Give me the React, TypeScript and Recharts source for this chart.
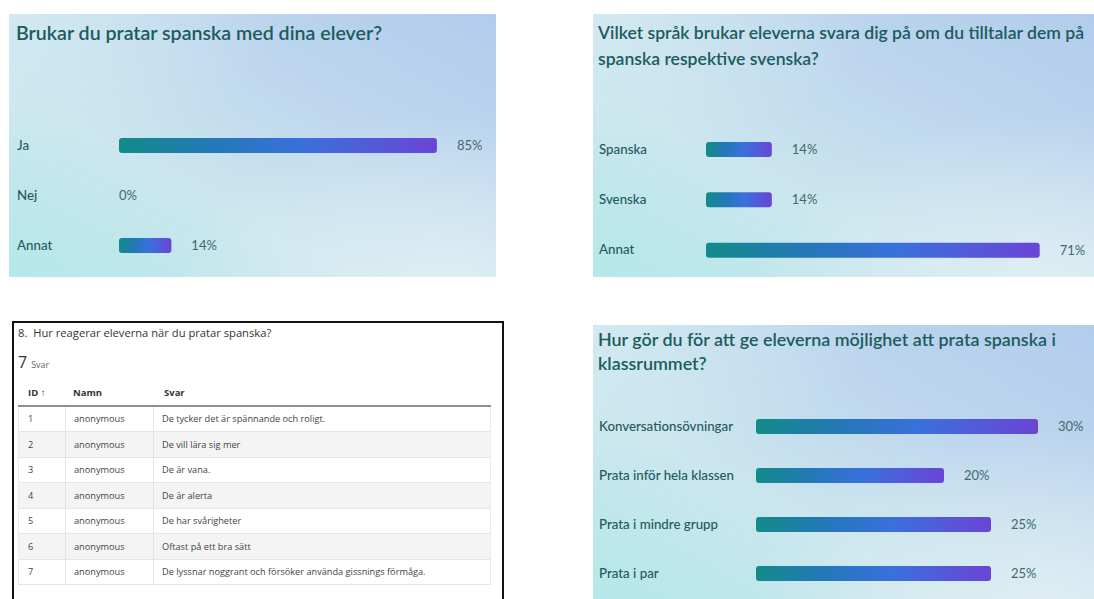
import React from "react";
import { BarChart, Bar, XAxis, YAxis, LabelList, Rectangle } from "recharts";

// question 1
const q1Title = ["Brukar du pratar spanska med dina elever?"];
const q1Categories = ["Ja", "Nej", "Annat"];
const q1Values = [85, 0, 14];

// question 2
const q2Title = [
  "Vilket språk brukar eleverna svara dig på om du tilltalar dem på",
  "spanska respektive svenska?",
];
const q2Categories = ["Spanska", "Svenska", "Annat"];
const q2Values = [14, 14, 71];

// question 4
const q4Title = [
  "Hur gör du för att ge eleverna möjlighet att prata spanska i",
  "klassrummet?",
];
const q4Categories = [
  "Konversationsövningar",
  "Prata inför hela klassen",
  "Prata i mindre grupp",
  "Prata i par",
];
const q4Values = [30, 20, 25, 25];

// free text answers (question 8)
const tableTitle = "8.  Hur reagerar eleverna när du pratar spanska?";
const tableCount = 7;
const tableHeaders = ["ID ↑", "Namn", "Svar"];
const tableIds = [1, 2, 3, 4, 5, 6, 7];
const tableNames = [
  "anonymous",
  "anonymous",
  "anonymous",
  "anonymous",
  "anonymous",
  "anonymous",
  "anonymous",
];
const tableAnswers = [
  "De tycker det är spännande och roligt.",
  "De vill lära sig mer",
  "De är vana.",
  "De är alerta",
  "De har svårigheter",
  "Oftast på ett bra sätt",
  "De lyssnar noggrant och försöker använda gissnings förmåga.",
];

const FONT = "Lato, 'Open Sans', sans-serif";
const TABLE_FONT = "'Open Sans', sans-serif";
const TITLE_COLOR = "#1b5c5d";
const LABEL_COLOR = "#245a5b";
const VALUE_COLOR = "#40696c";

const panelBg =
  "radial-gradient(ellipse at 90% 105%, rgba(226,240,244,0.9) 0%, rgba(226,240,244,0) 45%), " +
  "radial-gradient(ellipse at 0% 0%, rgba(214,236,242,0.8) 0%, rgba(214,236,242,0) 40%), " +
  "linear-gradient(to top right, #b4e8e9 0%, #cbe6ee 35%, #bed7ee 65%, #b2ccec 100%)";

interface PanelProps {
  left: number;
  top: number;
  width: number;
  height: number;
  title: string[];
  titleSize: number;
  titleTop: number;
  lineHeight: number;
  categories: string[];
  values: number[];
  margin: { top: number; right: number; bottom: number; left: number };
  axisWidth: number;
  domainMax: number;
  labelX: number;
}

function SurveyPanel(p: PanelProps) {
  const data = p.categories.map((name, i) => ({ name, value: p.values[i] }));
  return (
    <div
      style={{
        position: "absolute",
        left: p.left,
        top: p.top,
        width: p.width,
        height: p.height,
        background: panelBg,
        overflow: "hidden",
      }}
    >
      <div
        style={{
          position: "absolute",
          left: p.labelX - 1,
          top: p.titleTop,
          fontFamily: FONT,
          fontWeight: 600,
          fontSize: p.titleSize,
          lineHeight: `${p.lineHeight}px`,
          color: TITLE_COLOR,
          whiteSpace: "nowrap",
        }}
      >
        {p.title.map((t) => (
          <div key={t}>{t}</div>
        ))}
      </div>
      <div style={{ position: "absolute", left: 0, top: 0 }}>
        <BarChart
          width={p.width}
          height={p.height}
          data={data}
          layout="vertical"
          margin={p.margin}
        >
          <XAxis type="number" hide domain={[0, p.domainMax]} />
          <YAxis
            type="category"
            dataKey="name"
            width={p.axisWidth}
            axisLine={false}
            tickLine={false}
            interval={0}
            tick={(t: any) => (
              <text
                x={p.labelX}
                y={t.y}
                dy="0.35em"
                textAnchor="start"
                fontFamily={FONT}
                fontSize={13.3}
                fontWeight={500}
                fill={LABEL_COLOR}
              >
                {t.payload.value}
              </text>
            )}
          />
          <Bar
            dataKey="value"
            fill="url(#surveyGrad)"
            barSize={15}
            radius={3}
            minPointSize={1}
            isAnimationActive={false}
            shape={(s: any) =>
              s.payload && s.payload.value > 0 ? <Rectangle {...s} /> : <g />
            }
          >
            <LabelList
              dataKey="value"
              content={(l: any) => {
                const x = Number(l.x) + (l.value > 0 ? Number(l.width) + 20 : 0);
                return (
                  <text
                    x={x}
                    y={Number(l.y) + Number(l.height) / 2}
                    dy="0.35em"
                    textAnchor="start"
                    fontFamily={FONT}
                    fontSize={13}
                    fill={VALUE_COLOR}
                  >
                    {l.value}%
                  </text>
                );
              }}
            />
          </Bar>
        </BarChart>
      </div>
    </div>
  );
}

function AnswerTable() {
  const cellFont = { fontFamily: TABLE_FONT, fontSize: 9.2, color: "#444" };
  const col = (w: number, pad: number) => ({
    width: w,
    height: "100%",
    boxSizing: "border-box" as const,
    paddingLeft: pad,
    borderRight: "1px solid #e3e3e3",
    display: "flex",
    alignItems: "center",
  });
  return (
    <div
      style={{
        position: "absolute",
        left: 12,
        top: 321,
        width: 492,
        height: 290,
        border: "2px solid #111",
        borderBottom: "none",
        boxSizing: "border-box",
        background: "#fff",
      }}
    >
      <div
        style={{
          position: "absolute",
          left: 4,
          top: 2,
          fontFamily: TABLE_FONT,
          fontSize: 11.2,
          lineHeight: "16px",
          color: "#333",
          whiteSpace: "pre",
        }}
      >
        {tableTitle}
      </div>
      <div
        style={{
          position: "absolute",
          left: 4,
          top: 28,
          fontFamily: TABLE_FONT,
          color: "#333",
          whiteSpace: "nowrap",
          display: "flex",
          alignItems: "baseline",
        }}
      >
        <span style={{ fontSize: 16 }}>{tableCount}</span>
        <span style={{ fontSize: 9, color: "#666", marginLeft: 4 }}>Svar</span>
      </div>
      {tableHeaders.map((h, i) => (
        <div
          key={h}
          style={{
            position: "absolute",
            left: [14, 59, 150][i],
            top: 63,
            fontFamily: TABLE_FONT,
            fontSize: 9.5,
            fontWeight: 700,
            color: "#333",
            lineHeight: "14px",
            whiteSpace: "nowrap",
          }}
        >
          {h}
        </div>
      ))}
      <div
        style={{
          position: "absolute",
          left: 4,
          top: 82,
          width: 473,
          height: 1.5,
          background: "#8f8f8f",
        }}
      />
      {tableIds.map((id, i) => (
        <div
          key={id}
          style={{
            position: "absolute",
            left: 4,
            top: 83.5 + i * 25.5,
            width: 473,
            height: 25.5,
            boxSizing: "border-box",
            display: "flex",
            alignItems: "center",
            background: i % 2 === 1 ? "#f4f4f4" : "#fff",
            borderBottom: "1px solid #e6e6e6",
            borderLeft: "1px solid #ececec",
            borderRight: "1px solid #ececec",
            whiteSpace: "nowrap",
            ...cellFont,
          }}
        >
          <div style={col(47, 9)}>{id}</div>
          <div style={col(88, 8)}>{tableNames[i]}</div>
          <div style={{ paddingLeft: 8 }}>{tableAnswers[i]}</div>
        </div>
      ))}
    </div>
  );
}

export default function App() {
  return (
    <div
      style={{
        position: "absolute",
        left: 0,
        top: 0,
        width: 1094,
        height: 599,
        background: "#fff",
        overflow: "hidden",
      }}
    >
      <svg width={0} height={0} style={{ position: "absolute" }}>
        <defs>
          <linearGradient id="surveyGrad" x1="0" y1="0" x2="1" y2="0">
            <stop offset="0%" stopColor="#128b89" />
            <stop offset="30%" stopColor="#2378b8" />
            <stop offset="58%" stopColor="#3a70dc" />
            <stop offset="100%" stopColor="#6b44d6" />
          </linearGradient>
        </defs>
      </svg>
      <SurveyPanel
        left={9}
        top={14}
        width={487}
        height={263}
        title={q1Title}
        titleSize={19.6}
        titleTop={6}
        lineHeight={26}
        categories={q1Categories}
        values={q1Values}
        margin={{ top: 106, right: 3, bottom: 7, left: 0 }}
        axisWidth={110}
        domainMax={100}
        labelX={8}
      />
      <SurveyPanel
        left={593}
        top={14}
        width={501}
        height={263}
        title={q2Title}
        titleSize={17.6}
        titleTop={6}
        lineHeight={26}
        categories={q2Categories}
        values={q2Values}
        margin={{ top: 110, right: 12, bottom: 2, left: 0 }}
        axisWidth={113}
        domainMax={80}
        labelX={6}
      />
      <AnswerTable />
      <SurveyPanel
        left={593}
        top={325}
        width={501}
        height={274}
        title={q4Title}
        titleSize={17.9}
        titleTop={2}
        lineHeight={24}
        categories={q4Categories}
        values={q4Values}
        margin={{ top: 77, right: 9, bottom: 1, left: 0 }}
        axisWidth={163}
        domainMax={35}
        labelX={6}
      />
    </div>
  );
}
